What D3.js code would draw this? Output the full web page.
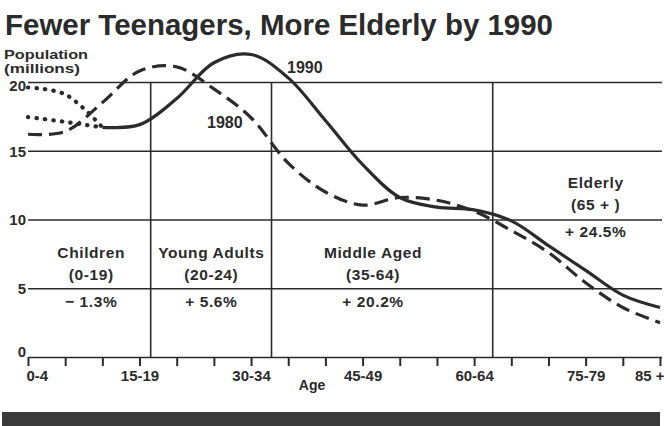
<!DOCTYPE html>
<html>
<head>
<meta charset="utf-8">
<script src="https://cdn.jsdelivr.net/npm/d3@7"></script>
<style>
  html, body { margin: 0; padding: 0; background: #ffffff; }
  svg { display: block; font-family: "Liberation Sans", Arial, Helvetica, sans-serif; }
</style>
</head>
<body>
<svg id="chart" width="664" height="426"></svg>
<script>
// Age groups along the x axis (5-year bands)
const ageGroups = ["0-4", "5-9", "10-14", "15-19", "20-24", "25-29", "30-34", "35-39", "40-44",
                   "45-49", "50-54", "55-59", "60-64", "65-69", "70-74", "75-79", "80-84", "85 +"];
const ageTickLabels = ["0-4", "15-19", "30-34", "45-49", "60-64", "75-79", "85 +"];
const popTicks = [0, 5, 10, 15, 20];

// Population in millions by age group
const pop1980 = [16.2, 16.4, 18.5, 20.8, 21.1, 19.5, 17.4, 14.1, 12.0, 11.05, 11.6, 11.4,
                 10.6, 9.2, 7.6, 5.4, 3.6, 2.5];
const pop1990 = [null, null, 16.7, 16.9, 18.8, 21.4, 22.0, 20.3, 17.2, 14.0, 11.6, 10.9,
                 10.7, 9.9, 8.1, 6.3, 4.5, 3.6];
// Projected range for the youngest groups (not yet born in 1980)
const pop1990High = [19.6, 19.1, 16.7];
const pop1990Low  = [17.45, 17.1, 16.7];

// Life-stage groups and their projected change 1980-1990
const groupNames  = ["Children", "Young Adults", "Middle Aged", "Elderly"];
const groupRanges = ["(0-19)", "(20-24)", "(35-64)", "(65 + )"];
const groupChange = ["\u2212 1.3%", "+ 5.6%", "+ 20.2%", "+ 24.5%"];
const groupBounds = [3.3, 6.55, 12.5];

const ink = "#2b2b2b";
const svg = d3.select("#chart");

const x = d3.scaleLinear().domain([0, ageGroups.length - 1]).range([28, 660]);
const y = d3.scaleLinear().domain([0, 20]).range([357, 82]);

// Title
svg.append("text")
  .attr("x", 5).attr("y", 35)
  .attr("font-size", 29).attr("font-weight", "bold")
  .attr("fill", ink)
  .attr("textLength", 548).attr("lengthAdjust", "spacingAndGlyphs")
  .text("Fewer Teenagers, More Elderly by 1990");

// Y axis title
svg.append("text").attr("x", 4).attr("y", 59)
  .attr("font-size", 13.5).attr("font-weight", "bold").attr("fill", ink)
  .attr("textLength", 84).attr("lengthAdjust", "spacingAndGlyphs")
  .text("Population");
svg.append("text").attr("x", 4).attr("y", 73)
  .attr("font-size", 13.5).attr("font-weight", "bold").attr("fill", ink)
  .attr("textLength", 76).attr("lengthAdjust", "spacingAndGlyphs")
  .text("(millions)");

// Horizontal gridlines with value labels
const yAxis = svg.append("g")
  .attr("transform", `translate(${x(0)},0)`)
  .call(d3.axisLeft(y).tickValues(popTicks).tickSize(-(662 - x(0))).tickPadding(2));
yAxis.select(".domain").remove();
yAxis.selectAll(".tick line").attr("stroke", ink).attr("stroke-width", 1.6);
yAxis.selectAll(".tick text")
  .attr("font-size", 15).attr("font-weight", "bold").attr("fill", ink)
  .attr("font-family", "Liberation Sans, Arial, sans-serif")
  .attr("dy", d => d === 0 ? "-0.05em" : (d === 20 ? "0.55em" : "0.35em"));

// Vertical dividers between life-stage groups
svg.append("g").selectAll("line")
  .data(groupBounds)
  .join("line")
  .attr("x1", d => x(d)).attr("x2", d => x(d))
  .attr("y1", y(20)).attr("y2", y(0))
  .attr("stroke", ink).attr("stroke-width", 1.6);

// X axis ticks and age labels
const xAxis = svg.append("g")
  .attr("transform", `translate(0,${y(0)})`)
  .call(d3.axisBottom(x)
    .tickValues(d3.range(ageGroups.length))
    .tickSize(9).tickPadding(4)
    .tickFormat(i => ageTickLabels.includes(ageGroups[i]) ? ageGroups[i] : ""));
xAxis.select(".domain").remove();
xAxis.selectAll(".tick line").attr("stroke", ink).attr("stroke-width", 2);
xAxis.selectAll(".tick text")
  .attr("font-size", 15).attr("font-weight", "bold").attr("fill", ink)
  .attr("font-family", "Liberation Sans, Arial, sans-serif")
  .attr("text-anchor", i => i === 0 ? "start" : (i === ageGroups.length - 1 ? "end" : "middle"))
  .attr("dx", i => i === 0 ? -2 : (i === ageGroups.length - 1 ? 4 : 0));

svg.append("text")
  .attr("x", 312).attr("y", 390)
  .attr("text-anchor", "middle")
  .attr("font-size", 14).attr("font-weight", "bold").attr("fill", ink)
  .text("Age");

// Population curves
const line = d3.line()
  .defined(d => d != null)
  .x((d, i) => x(i))
  .y(d => y(d))
  .curve(d3.curveCatmullRom.alpha(0.5));

const curves = svg.append("g").attr("fill", "none").attr("stroke", ink);

curves.append("path").datum(pop1990High)
  .attr("d", line).attr("stroke-width", 4.2)
  .attr("stroke-linecap", "round").attr("stroke-dasharray", "0.5,8");
curves.append("path").datum(pop1990Low)
  .attr("d", line).attr("stroke-width", 4.2)
  .attr("stroke-linecap", "round").attr("stroke-dasharray", "0.5,8");
curves.append("path").datum(pop1980)
  .attr("d", line).attr("stroke-width", 3.2)
  .attr("stroke-dasharray", "14,7");
curves.append("path").datum(pop1990)
  .attr("d", line).attr("stroke-width", 3.2);

// Curve labels
svg.append("text").attr("x", 287).attr("y", 73)
  .attr("font-size", 16).attr("font-weight", "bold").attr("fill", ink).text("1990");
svg.append("text").attr("x", 207).attr("y", 128)
  .attr("font-size", 16).attr("font-weight", "bold").attr("fill", ink).text("1980");

// Group labels: name, age range, percent change
const labelCenters = [1.7, 4.93, 9.28, 15.27];
const labelTop = [258, 258, 258, 188];
const groups = svg.append("g")
  .attr("font-size", 15.5).attr("font-weight", "bold").attr("fill", ink)
  .attr("text-anchor", "middle").attr("letter-spacing", 0.6);
groupNames.forEach((name, k) => {
  const cx = x(labelCenters[k]);
  groups.append("text").attr("x", cx).attr("y", labelTop[k]).text(name);
  groups.append("text").attr("x", cx).attr("y", labelTop[k] + 22).text(groupRanges[k]);
  groups.append("text").attr("x", cx).attr("y", labelTop[k] + 49).text(groupChange[k]);
});

// Footer rule
svg.append("rect")
  .attr("x", 2).attr("y", 412).attr("width", 658).attr("height", 14)
  .attr("fill", "#3a3a3a");
</script>
</body>
</html>
